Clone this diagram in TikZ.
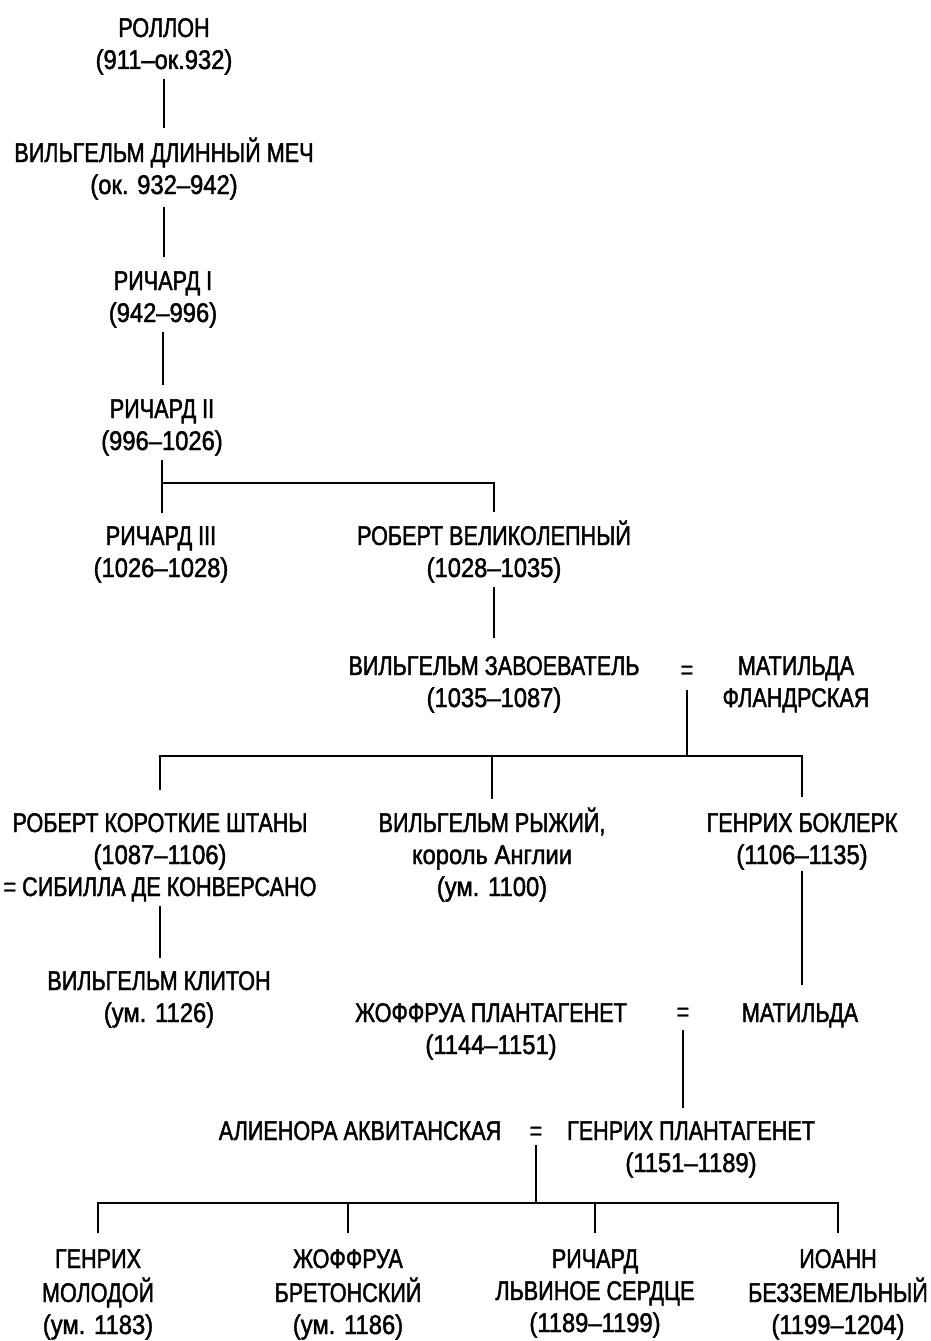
\documentclass[tikz,border=0pt]{standalone}
\usepackage{fontspec}
\setmainfont{Liberation Sans}[FakeStretch=0.8,FakeBold=1.6]
\newfontfamily\datefont{Liberation Sans}[FakeStretch=0.88,FakeBold=1.6]
\newcommand{\pp}[1]{\begin{tabular}[t]{@{}c@{}}#1\end{tabular}}
\newcommand{\dt}[1]{{\datefont #1}}
\begin{document}
\begin{tikzpicture}[x=1pt,y=-1pt,
  person/.style={anchor=base, inner sep=0pt, font=\fontsize{27}{32}\selectfont},
  conn/.style={line width=2pt}]
\useasboundingbox (0,0) rectangle (931,1341);
% nodes
\node[person] (rollon) at (164,37) {\pp{РОЛЛОН\\\dt{(911–ок.932)}}};
\node[person] (wls) at (164,162) {\pp{ВИЛЬГЕЛЬМ ДЛИННЫЙ МЕЧ\\\dt{(ок. 932–942)}}};
\node[person] (r1) at (163,290) {\pp{РИЧАРД I\\\dt{(942–996)}}};
\node[person] (r2) at (162,418) {\pp{РИЧАРД II\\\dt{(996–1026)}}};
\node[person] (r3) at (161,545) {\pp{РИЧАРД III\\\dt{(1026–1028)}}};
\node[person] (rob) at (494,545) {\pp{РОБЕРТ ВЕЛИКОЛЕПНЫЙ\\\dt{(1028–1035)}}};
\node[person] (wc) at (494,675) {\pp{ВИЛЬГЕЛЬМ ЗАВОЕВАТЕЛЬ\\\dt{(1035–1087)}}};
\node[person] (eq1) at (687,679) {=};
\node[person] (mf) at (796,675) {\pp{МАТИЛЬДА\\ФЛАНДРСКАЯ}};
\node[person] (rks) at (160,832) {\pp{РОБЕРТ КОРОТКИЕ ШТАНЫ\\\dt{(1087–1106)}\\= СИБИЛЛА ДЕ КОНВЕРСАНО}};
\node[person] (wr) at (492,832) {\pp{ВИЛЬГЕЛЬМ РЫЖИЙ,\\\dt{король Англии}\\\dt{(ум. 1100)}}};
\node[person] (hb) at (802,832) {\pp{ГЕНРИХ БОКЛЕРК\\\dt{(1106–1135)}}};
\node[person] (wk) at (159,990) {\pp{ВИЛЬГЕЛЬМ КЛИТОН\\\dt{(ум. 1126)}}};
\node[person] (jp) at (491,1022) {\pp{ЖОФФРУА ПЛАНТАГЕНЕТ\\\dt{(1144–1151)}}};
\node[person] (eq2) at (683,1021) {=};
\node[person] (mat) at (800,1022) {МАТИЛЬДА};
\node[person] (al) at (360,1140) {АЛИЕНОРА АКВИТАНСКАЯ};
\node[person] (eq3) at (536,1140) {=};
\node[person] (hp) at (691,1140) {\pp{ГЕНРИХ ПЛАНТАГЕНЕТ\\\dt{(1151–1189)}}};
\node[person] (c1) at (98,1268) {\pp{ГЕНРИХ\\МОЛОДОЙ\\\dt{(ум. 1183)}}};
\node[person] (c2) at (348,1268) {\pp{ЖОФФРУА\\БРЕТОНСКИЙ\\\dt{(ум. 1186)}}};
\node[person] (c3) at (595,1268) {\pp{РИЧАРД\\ЛЬВИНОЕ СЕРДЦЕ\\\dt{(1189–1199)}}};
\node[person] (c4) at (838,1268) {\pp{ИОАНН\\БЕЗЗЕМЕЛЬНЫЙ\\\dt{(1199–1204)}}};
% connectors
\draw[conn] (rollon.south) -- ([yshift=34pt]rollon.south |- wls.base);
\draw[conn] ([yshift=-3pt]wls.south) -- ([yshift=33pt]wls.south |- r1.base);
\draw[conn] (r1.south) -- ([yshift=33pt]r1.south |- r2.base);
\draw[conn] (r2.south) -- ([yshift=32pt]r2.south |- r3.base);
\draw[conn] (r2.south |- 0,483) -| ([yshift=33pt]rob.base);
\draw[conn] (rob.south) -- ([yshift=37pt]rob.south |- wc.base);
\draw[conn] ([yshift=-11pt]eq1.base) -- (eq1.base |- 0,756);
\draw[conn] ([yshift=42pt]rks.base) |- (hb.base |- 0,756) -- ([yshift=35pt]hb.base);
\draw[conn] (wr.base |- 0,756) -- ([yshift=33pt]wr.base);
\draw[conn] (rks.south) -- ([yshift=32pt]rks.south |- wk.base);
\draw[conn] ([yshift=3pt]hb.south) -- ([yshift=37pt]hb.south |- mat.base);
\draw[conn] ([yshift=-9pt]eq2.base) -- ([yshift=32pt]eq2.base |- hp.base);
\draw[conn] ([yshift=-5pt]eq3.base) -- (eq3.base |- 0,1203);
\draw[conn] ([yshift=35pt]c1.base) |- (c4.base |- 0,1203) -- ([yshift=35pt]c4.base);
\draw[conn] (c2.base |- 0,1203) -- ([yshift=35pt]c2.base);
\draw[conn] (c3.base |- 0,1203) -- ([yshift=35pt]c3.base);
\end{tikzpicture}
\end{document}
